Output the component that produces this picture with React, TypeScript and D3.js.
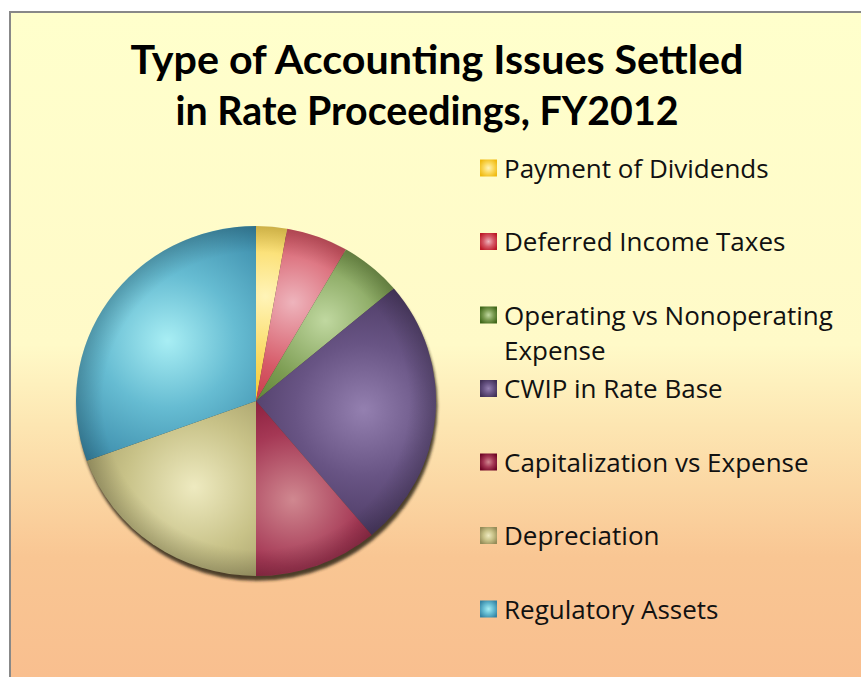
import React from "react";
import * as d3 from "d3";

const titleLines = ["Type of Accounting Issues Settled", "in Rate Proceedings, FY2012"];
const labels = [
  "Payment of Dividends",
  "Deferred Income Taxes",
  "Operating vs Nonoperating Expense",
  "CWIP in Rate Base",
  "Capitalization vs Expense",
  "Depreciation",
  "Regulatory Assets",
];
const legendLines = [
  ["Payment of Dividends"],
  ["Deferred Income Taxes"],
  ["Operating vs Nonoperating", "Expense"],
  ["CWIP in Rate Base"],
  ["Capitalization vs Expense"],
  ["Depreciation"],
  ["Regulatory Assets"],
];
const values = [1, 2, 2, 9, 4, 7, 11];
const edgeColors = ["#F0BA10", "#BC1A28", "#40681A", "#423158", "#700626", "#948C58", "#3584A4"];
const midColors = ["#FAD85A", "#D65A68", "#7C9C52", "#685484", "#A53855", "#C8C288", "#66BCD2"];
const lightColors = ["#FFF4B8", "#EEB4BC", "#C0D8A0", "#9480B0", "#D08890", "#EEEAC0", "#A8EEF4"];

const W = 861;
const H = 677;
const cx = 256;
const cy = 401;
const R = 180;
const yScale = 0.972;

export default function App() {
  const pie = d3.pie<number>().sort(null).value((d) => d)(values);
  const arc = d3.arc<d3.PieArcDatum<number>>().innerRadius(0).outerRadius(R);
  const legendY = d3.scalePoint<number>().domain(d3.range(values.length)).range([168, 609]);

  return (
    <svg
      width={W}
      height={H}
      style={{ position: "fixed", left: 0, top: 0 }}
      xmlns="http://www.w3.org/2000/svg"
    >
      <defs>
        <linearGradient id="bg" x1="0" y1="12" x2="0" y2="677" gradientUnits="userSpaceOnUse">
          <stop offset="0" stopColor="#FFFFCC" />
          <stop offset="0.5" stopColor="#FFFAC8" />
          <stop offset="0.62" stopColor="#FDE6B2" />
          <stop offset="0.82" stopColor="#F9C693" />
          <stop offset="1" stopColor="#F9BF8F" />
        </linearGradient>
        {pie.map((p, i) => {
          const mid = (p.startAngle + p.endAngle) / 2;
          const d = R * 0.6;
          const gx = Math.sin(mid) * d;
          const gy = -Math.cos(mid) * d;
          return (
            <radialGradient
              key={i}
              id={`sg${i}`}
              gradientUnits="userSpaceOnUse"
              cx={gx}
              cy={gy}
              fx={gx}
              fy={gy}
              r={R * 0.85}
            >
              <stop offset="0" stopColor={lightColors[i]} />
              <stop offset="0.45" stopColor={midColors[i]} />
              <stop offset="1" stopColor={edgeColors[i]} />
            </radialGradient>
          );
        })}
        {values.map((_, i) => (
          <radialGradient key={i} id={`lg${i}`} cx="0.5" cy="0.5" r="0.6">
            <stop offset="0" stopColor={lightColors[i]} />
            <stop offset="0.5" stopColor={midColors[i]} />
            <stop offset="1" stopColor={edgeColors[i]} />
          </radialGradient>
        ))}
        <radialGradient id="rim" gradientUnits="userSpaceOnUse" cx="0" cy="0" r={R}>
          <stop offset="0.85" stopColor="#000" stopOpacity="0" />
          <stop offset="1" stopColor="#000" stopOpacity="0.18" />
        </radialGradient>
        <filter id="blur" x="-10%" y="-10%" width="120%" height="120%">
          <feGaussianBlur stdDeviation="1.5" />
        </filter>
      </defs>

      <rect x={0} y={0} width={W} height={H} fill="#ffffff" />
      <rect x={10} y={12} width={W + 20} height={H + 20} fill="url(#bg)" stroke="#888888" strokeWidth={2} />

      <g fontFamily="Lato, 'Open Sans', sans-serif" fontWeight="bold" fill="#000" fontSize={40}>
        <text x={437} y={74} textAnchor="middle" textLength={613} lengthAdjust="spacingAndGlyphs">
          {titleLines[0]}
        </text>
        <text x={427} y={125} textAnchor="middle" textLength={503} lengthAdjust="spacingAndGlyphs">
          {titleLines[1]}
        </text>
      </g>

      <g transform={`translate(${cx},${cy}) scale(1,${yScale})`}>
        <circle cx={1.5} cy={5} r={R} fill="#2E2614" filter="url(#blur)" opacity={0.85} />
        {pie.map((p, i) => (
          <path key={i} d={arc(p) ?? ""} fill={`url(#sg${i})`} />
        ))}
        <circle r={R} fill="url(#rim)" />
      </g>

      <g fontFamily="'Open Sans', sans-serif" fontSize={26} fill="#111">
        {labels.map((lab, i) => {
          const y = legendY(i) ?? 0;
          return (
            <g key={lab}>
              <rect x={480} y={y - 8.5} width={17} height={17} fill={`url(#lg${i})`} />
              {legendLines[i].map((ln, j) => (
                <text key={j} x={504} y={y + 9.5 + j * 35}>
                  {ln}
                </text>
              ))}
            </g>
          );
        })}
      </g>
    </svg>
  );
}
